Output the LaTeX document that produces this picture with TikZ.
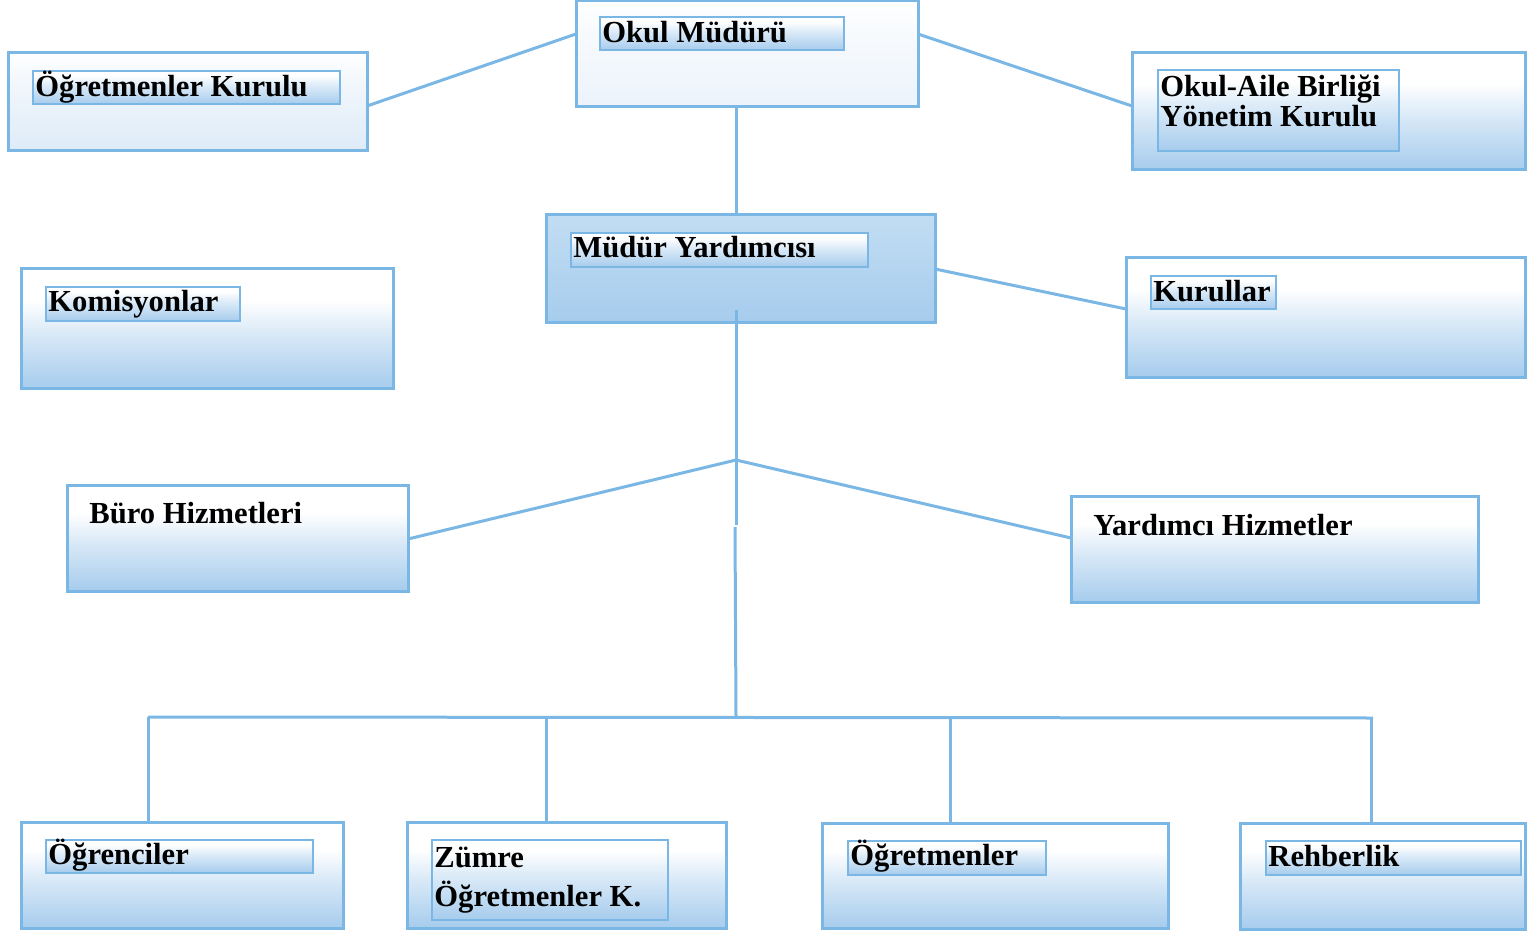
\documentclass[tikz,border=0pt]{standalone}
\usepackage{fontspec}
\setmainfont{Liberation Serif}
\usetikzlibrary{fit}
\definecolor{bb}{RGB}{166,204,237}
\definecolor{edge}{RGB}{122,183,229}
\definecolor{omlow}{RGB}{236,243,251}
\definecolor{oklow}{RGB}{222,235,248}
\definecolor{mytop}{RGB}{194,221,243}
\pgfdeclareverticalshading{boxA}{100bp}{color(0bp)=(bb); color(25bp)=(bb); color(47bp)=(bb!45!white); color(62bp)=(white); color(100bp)=(white)}
\pgfdeclareverticalshading{boxOM}{100bp}{color(0bp)=(omlow); color(25bp)=(omlow); color(60bp)=(omlow!40!white); color(75bp)=(white); color(100bp)=(white)}
\pgfdeclareverticalshading{boxOK}{100bp}{color(0bp)=(oklow); color(25bp)=(oklow); color(60bp)=(oklow!40!white); color(75bp)=(white); color(100bp)=(white)}
\pgfdeclareverticalshading{boxMY}{100bp}{color(0bp)=(bb); color(25bp)=(bb); color(75bp)=(mytop); color(100bp)=(mytop)}
\pgfdeclareverticalshading{lblA}{100bp}{color(0bp)=(bb); color(25bp)=(bb); color(55bp)=(bb!35!white); color(68bp)=(white); color(100bp)=(white)}
\tikzset{
  outer/.style={draw=edge, line width=1.5pt, inner sep=0pt, outer sep=0pt, shading=boxA},
  lblbox/.style={draw=edge, line width=1.3pt, inner sep=0pt, outer sep=0pt, shading=lblA},
  txt/.style={font=\bfseries\fontsize{15.3}{18}\selectfont, text=black, inner sep=0pt, anchor=base west},
  conn/.style={draw=edge, line width=1.5pt}
}
\newcommand\obox[6]{\node[#6, fit={(#2,#3)(#4,#5)}] (#1) {};}
\begin{document}
\begin{tikzpicture}[x=0.5pt,y=-0.5pt]
\useasboundingbox (0,0) rectangle (1535,935);
% outer boxes
\obox{om}{576}{1}{918}{107}{outer, shading=boxOM}
\obox{ok}{8}{53}{367}{151}{outer, shading=boxOK}
\obox{oab}{1132}{53}{1525}{170}{outer}
\obox{my}{546}{215}{935}{323}{outer, shading=boxMY}
\obox{ks}{21}{269}{393}{388}{outer}
\obox{kr}{1126}{258}{1525}{377}{outer}
\obox{bh}{67}{485}{408}{591}{outer}
\obox{yh}{1071}{496}{1478}{602}{outer}
\obox{og}{21}{822}{343}{928}{outer}
\obox{zm}{407}{822}{726}{928}{outer}
\obox{ot}{822}{823}{1168}{928}{outer}
\obox{rh}{1240}{823}{1525}{929}{outer}
% inner label boxes
\obox{omL}{600}{17}{844}{50}{lblbox}
\obox{okL}{33}{71}{340}{104}{lblbox}
\obox{oabL}{1158}{70}{1399}{151}{lblbox}
\obox{myL}{571}{233}{868}{267}{lblbox}
\obox{ksL}{46}{287}{240}{321}{lblbox}
\obox{krL}{1151}{276}{1276}{309}{lblbox}
\obox{ogL}{46}{840}{313}{873}{lblbox}
\obox{zmL}{432}{840}{668}{920}{lblbox}
\obox{otL}{848}{841}{1046}{875}{lblbox}
\obox{rhL}{1266}{841}{1521}{875}{lblbox}
% texts
\node[txt] (tom) at (602,43) {Okul Müdürü};
\node[txt] (tok) at (35,97) {Öğretmenler Kurulu};
\node[txt] (toab1) at (1160,97) {Okul-Aile Birliği};
\node[txt] (toab2) at (1160,127) {Yönetim Kurulu};
\node[txt] (tmy) at (573,258) {Müdür Yardımcısı};
\node[txt] (tks) at (48,312) {Komisyonlar};
\node[txt] (tkr) at (1153,302) {Kurullar};
\node[txt] (tbh) at (89,523) {Büro Hizmetleri};
\node[txt] (tyh) at (1093,535) {Yardımcı Hizmetler};
\node[txt] (tog) at (48,864) {Öğrenciler};
\node[txt] (tzm1) at (434,867) {Zümre};
\node[txt] (tzm2) at (434,906) {Öğretmenler K.};
\node[txt] (tot) at (850,865) {Öğretmenler};
\node[txt] (trh) at (1268,866) {Rehberlik};
% connectors
\coordinate (myin) at (736,310);
\coordinate (hub) at (736,460);
\coordinate (h2) at (736,525);
\coordinate (h2b) at (735,527);
\coordinate (bus) at (736,717);
\coordinate (busL) at (148,717);
\coordinate (busR) at (1373,718);
\coordinate (d2) at (546,717);
\coordinate (d3) at (950,717);
\coordinate (d4) at (1371,718);
\draw[conn] (om.west |- 0,34) -- (ok.east |- 0,106);
\draw[conn] (om.east |- 0,34) -- (oab.west |- 0,106);
\draw[conn] (om.south -| bus) -- (my.north -| bus);
\draw[conn] (my.east |- 0,269) -- (kr.west |- 0,309);
\draw[conn] (myin) -- (hub);
\draw[conn] (hub) -- (bh.east |- 0,539);
\draw[conn] (hub) -- (yh.west |- 0,538);
\draw[conn] (hub) -- (h2);
\draw[conn] (h2b) -- (bus);
\draw[conn] (busL) -- (busR);
\draw[conn] (busL) -- (og.north -| busL);
\draw[conn] (d2) -- (zm.north -| d2);
\draw[conn] (d3) -- (ot.north -| d3);
\draw[conn] (d4) -- (rh.north -| d4);
\end{tikzpicture}
\end{document}
